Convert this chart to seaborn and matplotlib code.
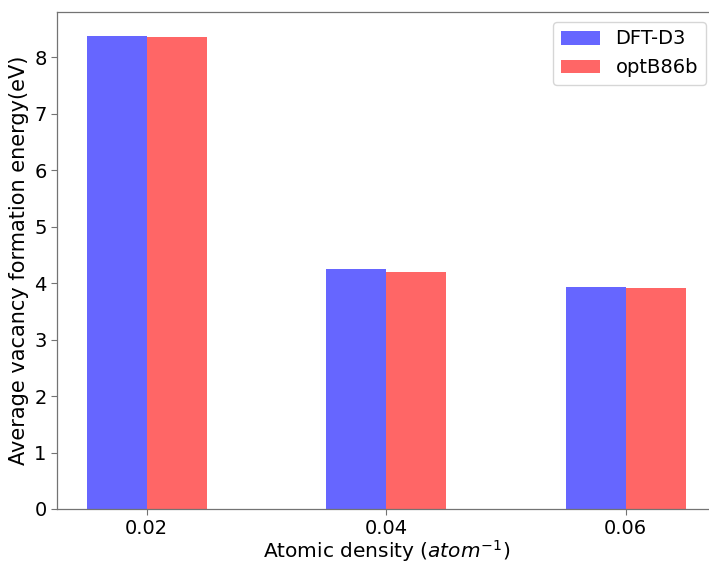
import matplotlib
matplotlib.use("Agg")
import matplotlib.pyplot as plt
import seaborn as sns
import pandas as pd

densities = [0.02, 0.04, 0.06]
tick_labels = ["0.02", "0.04", "0.06"]
methods = ["DFT-D3", "optB86b"]
dft_d3 = [8.38, 4.25, 3.93]
optb86b = [8.36, 4.19, 3.92]
colors = ["#6666FF", "#FF6666"]

df = pd.DataFrame({
    "density": densities * 2,
    "energy": dft_d3 + optb86b,
    "method": [methods[0]] * 3 + [methods[1]] * 3,
})

sns.set_style("white")
plt.rcParams["font.family"] = ["DejaVu Sans"]
plt.rcParams["text.color"] = "black"
plt.rcParams["axes.labelcolor"] = "black"
plt.rcParams["xtick.color"] = "black"
plt.rcParams["ytick.color"] = "black"

W, H = 709, 565
fig = plt.figure(figsize=(W / 100, H / 100), dpi=100)
ax = fig.add_axes([57 / W, (H - 509) / H, 658.6 / W, 497 / H])

sns.barplot(data=df, x="density", y="energy", hue="method", hue_order=methods,
            palette=colors, native_scale=True, width=0.5, saturation=1,
            linewidth=0, ax=ax)

ax.set_xticks(densities)
ax.set_xticklabels(tick_labels)
ax.set_xlim(0.0125, 0.0675)
ax.set_ylim(0, 8.8)
ax.set_yticks(range(0, 9))
ax.tick_params(axis="both", labelsize=14, length=4, width=0.8, color="0.45",
               labelcolor="black", bottom=True, left=True)
ax.tick_params(axis="x", pad=3)
ax.set_xlabel("Atomic density ($atom^{-1}$)", fontsize=14.5, labelpad=0)
ax.set_ylabel("Average vacancy formation energy(eV)", fontsize=15, labelpad=4)
for s in ax.spines.values():
    s.set_color("0.45")
    s.set_linewidth(0.9)

leg = ax.legend(loc="upper right", fontsize=14, title=None, frameon=True)
for t in leg.get_texts():
    t.set_color("black")

fig.savefig("out.png", dpi=100)
